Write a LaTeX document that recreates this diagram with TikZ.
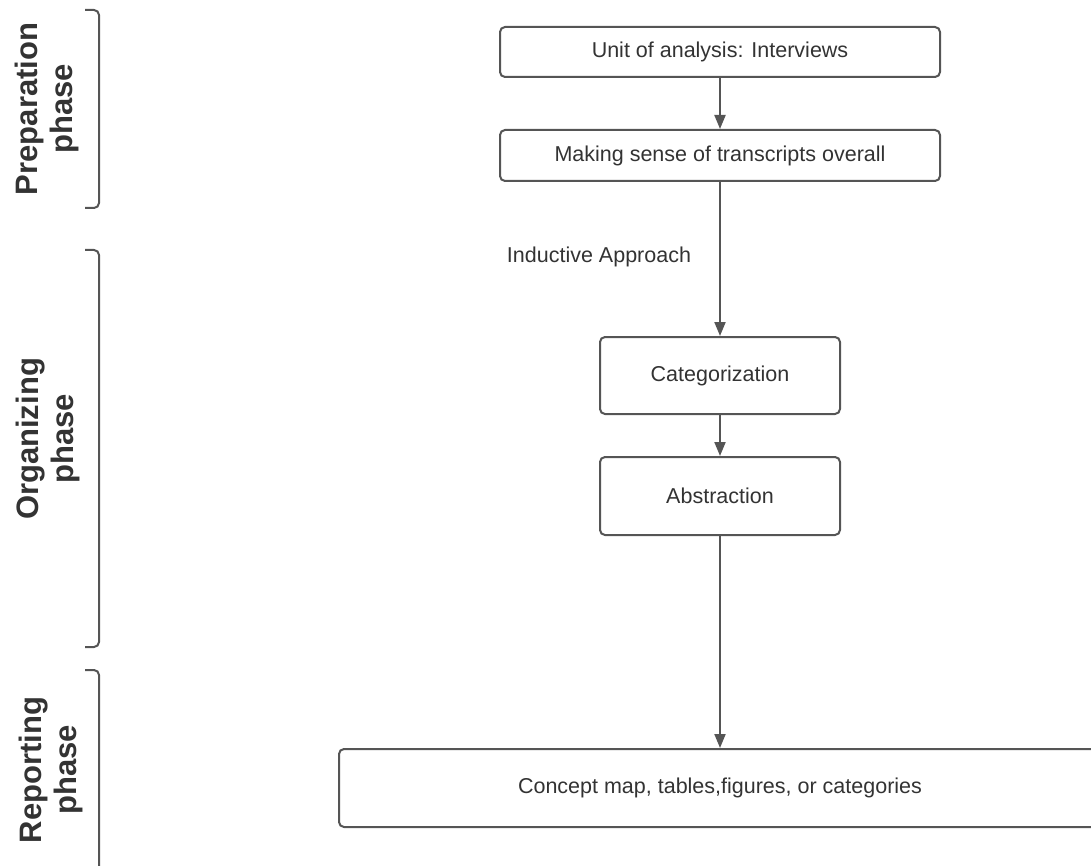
\documentclass[tikz,border=0pt]{standalone}
\usepackage{fontspec}
\setmainfont{Liberation Sans}
\usetikzlibrary{arrows.meta}
\definecolor{linegray}{HTML}{555555}
\definecolor{textgray}{HTML}{333333}
\tikzset{
  stepbox/.style={draw=linegray, line width=2pt, rounded corners=5pt, fill=white,
    text=textgray, font=\fontsize{21.5}{25}\selectfont, inner sep=0pt, align=center},
  flowarrow/.style={draw=linegray, line width=2pt, -{Triangle[length=14pt,width=11pt]}},
  phasebrace/.style={draw=linegray, line width=2pt, rounded corners=5pt},
  phaselabel/.style={rotate=90, align=center, text=textgray, inner sep=0pt,
    font=\fontsize{31}{35}\selectfont\bfseries},
  plainlabel/.style={text=textgray, font=\fontsize{21.5}{25}\selectfont, inner sep=0pt}
}
\begin{document}
\begin{tikzpicture}[x=1pt,y=-1pt]
\useasboundingbox (0,0) rectangle (1091,866);
\clip (0,0) rectangle (1091,866);

% boxes
\node[stepbox, minimum width=440pt, minimum height=50pt] (unit) at (720,52) {Unit of analysis: Interviews};
\node[stepbox, minimum width=440pt, minimum height=51pt] (sense) at (720,155.5) {Making sense of transcripts overall};
\node[stepbox, minimum width=240pt, minimum height=77pt] (cat) at (720,375.5) {Categorization};
\node[stepbox, minimum width=240pt, minimum height=78pt] (abs) at (720,496) {Abstraction};
\node[stepbox, minimum width=762pt, minimum height=78pt] (report) at (720,788) {Concept map, tables,figures, or categories};

% connectors
\draw[flowarrow] (unit.south) -- (sense.north);
\draw[flowarrow] (sense.south) -- (cat.north);
\draw[flowarrow] (cat.south) -- (abs.north);
\draw[flowarrow] (abs.south) -- (report.north);

\node[plainlabel] (induct) at (599,257) {Inductive Approach};

% phase brackets
\draw[phasebrace] (85,10) -- (99,10) -- (99,208) -- (85,208);
\draw[phasebrace] (85,250) -- (99,250) -- (99,647) -- (85,647);
\draw[phasebrace] (85,670) -- (99,670) -- (99,880);

% phase labels
\node[phaselabel] (prep) at (47,109) {Preparation\\phase};
\node[phaselabel] (org) at (48,439) {Organizing\\phase};
\node[phaselabel] (rep) at (51,770) {Reporting\\phase};
\end{tikzpicture}
\end{document}
